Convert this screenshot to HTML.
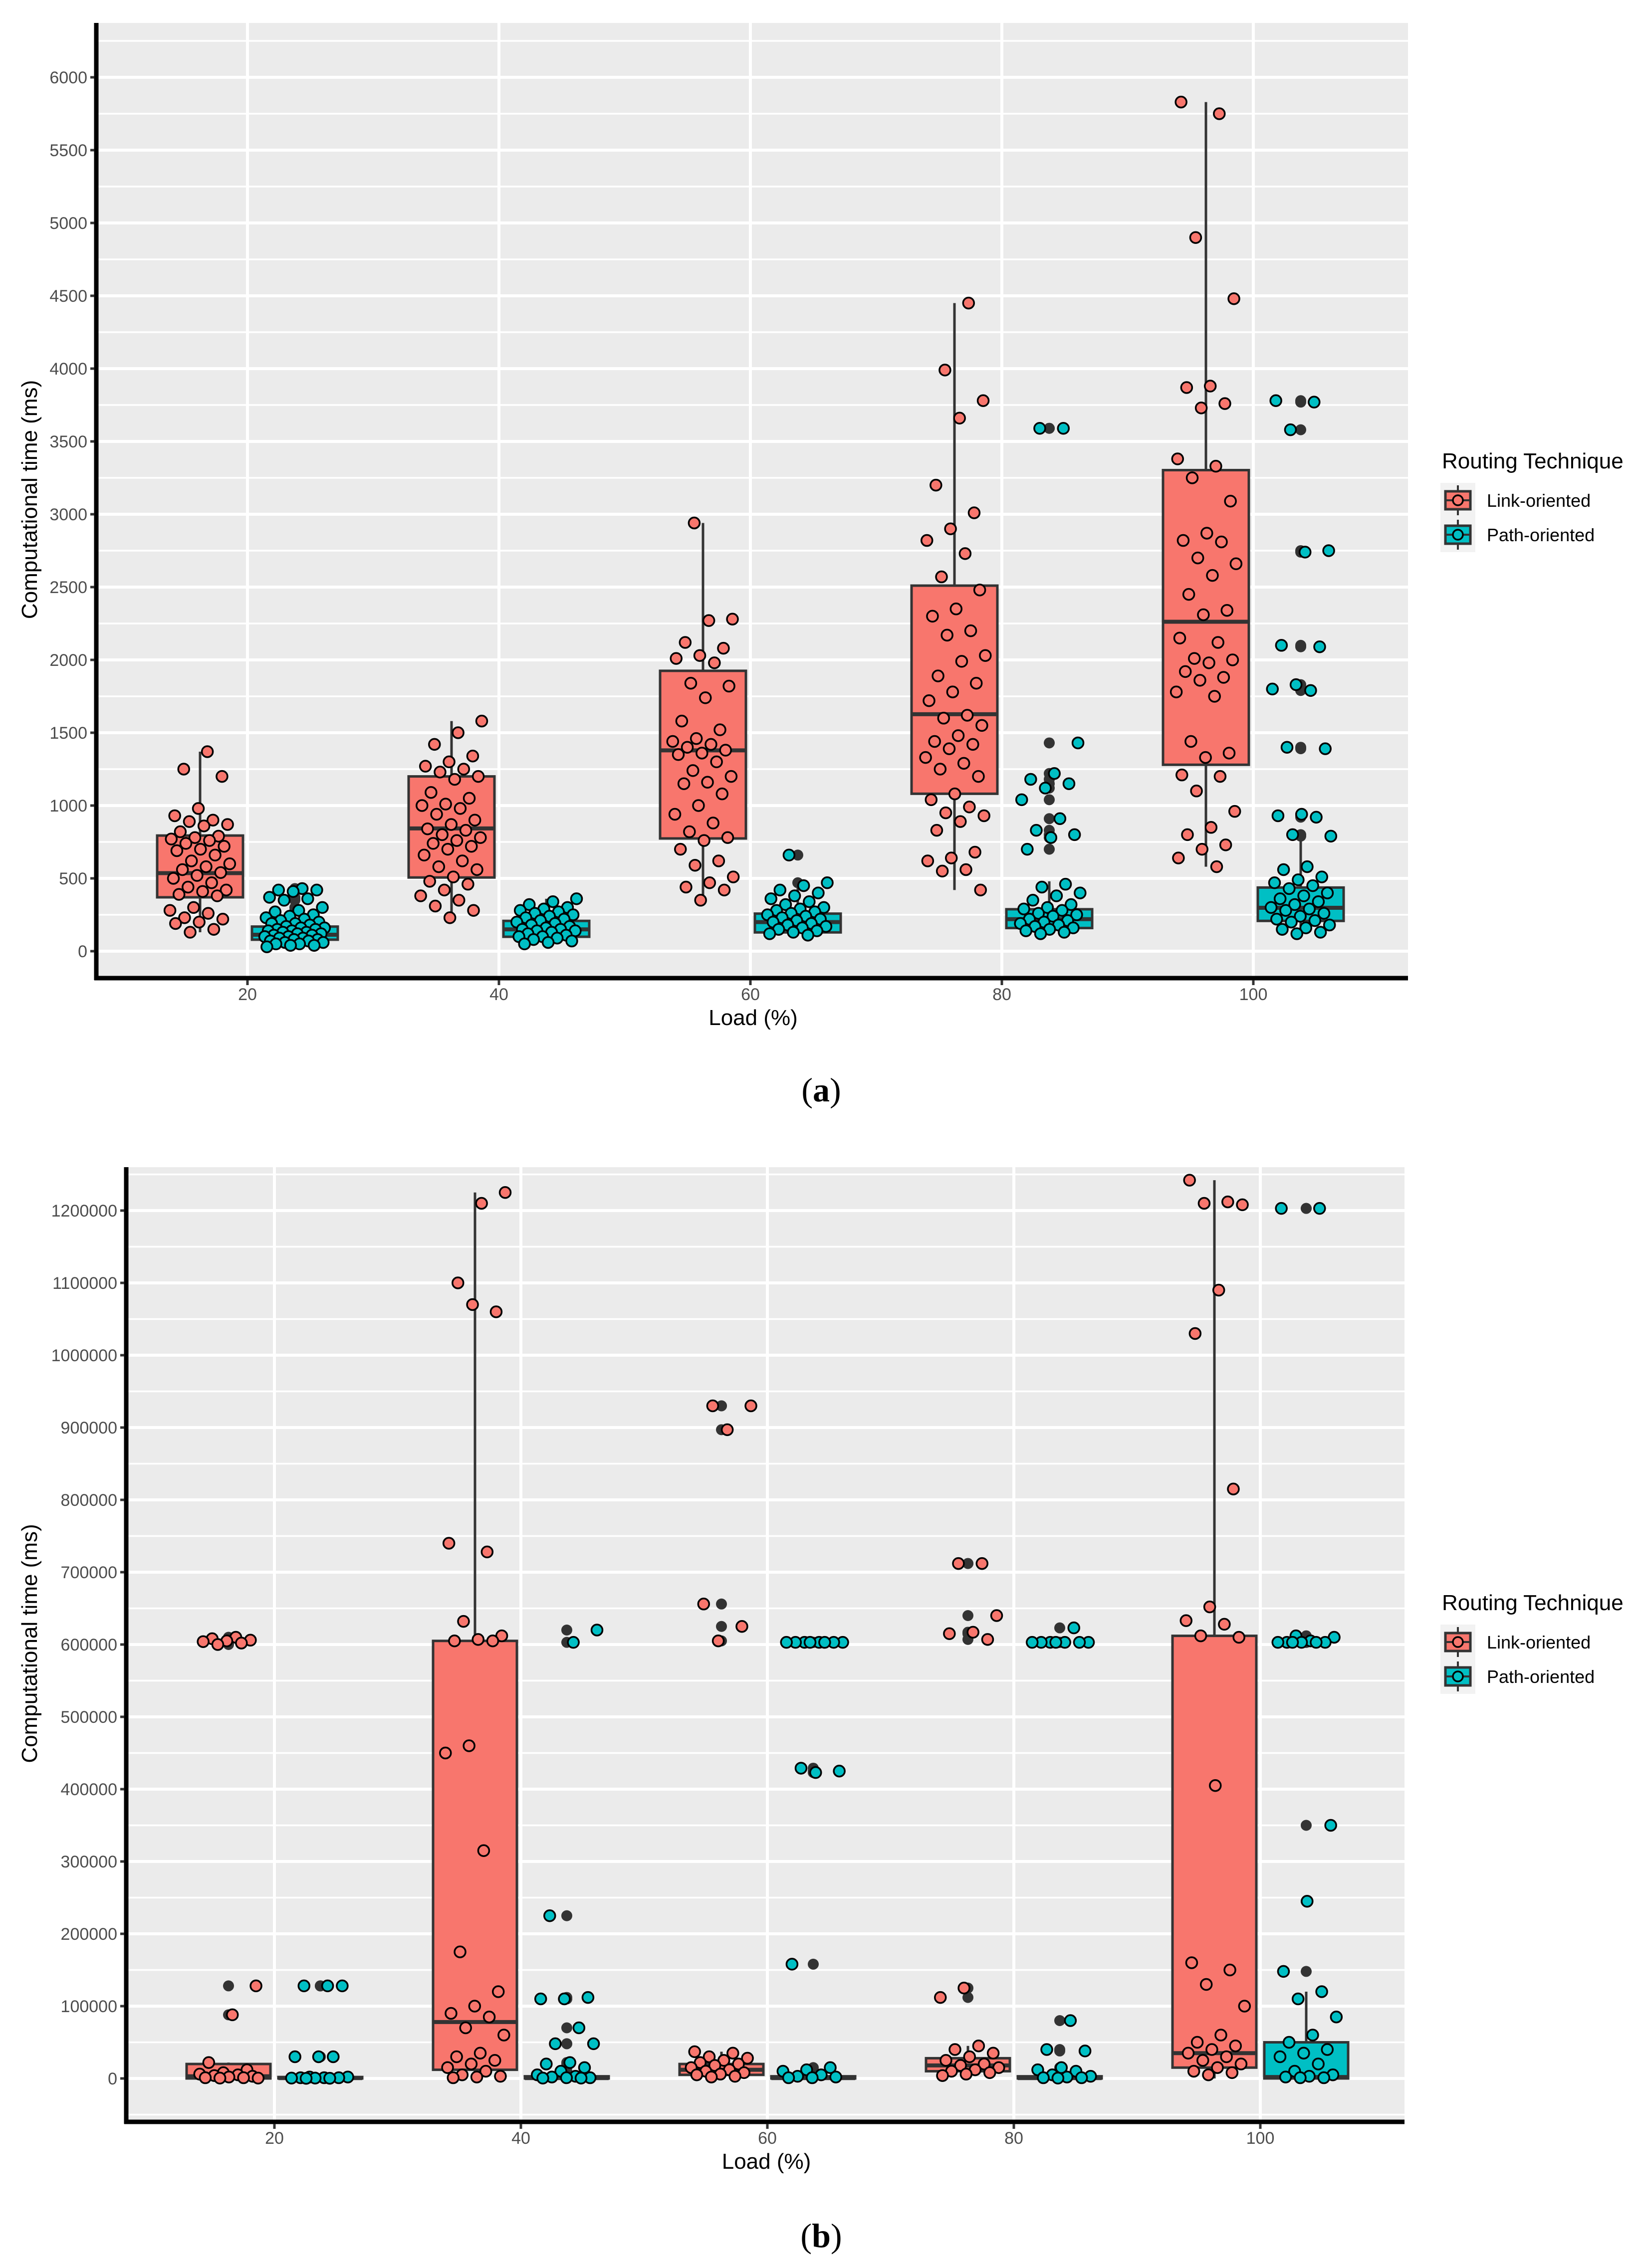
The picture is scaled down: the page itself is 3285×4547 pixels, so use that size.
<!DOCTYPE html>
<html><head><meta charset="utf-8"><style>
html,body{margin:0;padding:0;background:#fff;}
svg{display:block;}
text{font-family:"Liberation Sans",sans-serif;}
</style></head><body>
<svg id="chart" width="3285" height="4547" viewBox="0 0 3285 4547" xmlns="http://www.w3.org/2000/svg">
<rect width="3285" height="4547" fill="#fff"/>
</svg>
<script>
// ===== shared categories =====
const loads = [20, 40, 60, 80, 100];
const techniques = ["Link-oriented", "Path-oriented"];

// ===== panel (a) data (ms) =====
const aTicks = [0,500,1000,1500,2000,2500,3000,3500,4000,4500,5000,5500,6000];
const aLinkQ1 = [370, 506, 774, 1081, 1280];
const aLinkMed = [536, 843, 1379, 1627, 2262];
const aLinkQ3 = [794, 1200, 1925, 2510, 3303];
const aLinkLo = [130, 230, 350, 420, 580];
const aLinkHi = [1370, 1580, 2940, 4450, 5830];
const aPathQ1 = [79, 99, 129, 159, 208];
const aPathMed = [113, 150, 200, 220, 298];
const aPathQ3 = [169, 208, 258, 288, 437];
const aPathLo = [30, 50, 110, 120, 120];
const aPathHi = [270, 360, 450, 480, 760];
const aLink20 = [1370,1250,1200,980,930,900,890,870,860,820,790,780,770,760,740,720,700,690,660,620,600,580,560,540,520,500,470,440,420,410,390,380,300,280,260,230,220,200,190,150,130];
const aLink40 = [1580,1500,1420,1340,1300,1270,1250,1230,1200,1180,1090,1050,1010,1000,980,940,900,870,840,830,800,780,760,740,720,700,660,620,580,560,510,480,460,420,380,350,310,280,230];
const aLink60 = [2940,2280,2270,2120,2080,2030,2010,1980,1840,1820,1740,1580,1520,1460,1440,1420,1400,1380,1360,1350,1300,1240,1200,1160,1150,1080,1000,940,880,820,780,760,700,620,590,510,470,440,420,350];
const aLink80 = [4450,3990,3780,3660,3200,3010,2900,2820,2730,2570,2480,2350,2300,2200,2170,2030,1990,1890,1840,1780,1720,1620,1600,1550,1480,1440,1420,1390,1330,1290,1250,1200,1080,1040,990,950,930,890,830,680,640,620,560,550,420];
const aLink100 = [5830,5750,4900,4480,3880,3870,3760,3730,3380,3330,3250,3090,2870,2820,2810,2700,2660,2580,2450,2340,2310,2150,2120,2010,2000,1980,1920,1880,1860,1780,1750,1440,1360,1330,1210,1200,1100,960,850,800,730,700,640,580];
const aPath20 = [430,420,420,410,370,360,350,300,280,270,250,240,230,220,210,200,190,190,180,170,160,160,150,150,140,140,130,130,120,120,110,110,100,100,90,90,80,80,70,70,60,60,50,50,40,40,30];
const aPath40 = [360,340,320,300,290,280,270,260,250,240,230,220,210,200,190,180,170,160,150,150,140,140,130,120,110,100,100,90,80,70,60,50];
const aPath60 = [660,470,450,420,400,380,360,340,320,300,290,280,270,260,250,240,230,220,210,200,190,180,170,160,150,140,130,120,110];
const aPath80 = [3590,3590,1430,1220,1180,1150,1120,1040,910,830,800,780,700,460,440,400,380,350,320,300,290,280,260,250,240,220,210,200,190,180,170,160,150,140,130,120];
const aPath100 = [3780,3770,3580,2750,2740,2100,2090,1830,1800,1790,1400,1390,940,930,920,800,790,580,560,510,490,470,450,430,400,380,360,340,320,300,290,280,260,240,220,210,200,180,160,150,130,120];

// ===== panel (b) data (ms) =====
const bTicks = [0,100000,200000,300000,400000,500000,600000,700000,800000,900000,1000000,1100000,1200000];
const bLinkQ1 = [0, 12000, 5000, 10000, 15000];
const bLinkMed = [3000, 78000, 12000, 18000, 35000];
const bLinkQ3 = [20000, 605000, 20000, 28000, 612000];
const bLinkLo = [0, 0, 0, 0, 0];
const bLinkHi = [22000, 1225000, 37000, 45000, 1242000];
const bPathQ1 = [0, 0, 0, 0, 0];
const bPathMed = [500, 500, 500, 500, 2000];
const bPathQ3 = [2000, 3000, 3000, 3000, 50000];
const bPathLo = [0, 0, 0, 0, 0];
const bPathHi = [3000, 3000, 3000, 3000, 120000];
const bLink20 = [610000,608000,606000,605000,604000,602000,600000,128000,88000,22000,12000,8000,6000,5000,4000,3000,2000,1000,1000,500,500];
const bLink40 = [1225000,1210000,1100000,1060000,1070000,740000,728000,632000,612000,607000,605000,605000,460000,450000,315000,175000,120000,100000,90000,85000,70000,60000,35000,30000,25000,20000,15000,10000,5000,3000,2000,1000];
const bLink60 = [930000,930000,897000,656000,625000,605000,37000,35000,30000,28000,25000,22000,20000,18000,15000,12000,10000,8000,6000,5000,3000,2000];
const bLink80 = [712000,712000,640000,617000,615000,607000,125000,112000,45000,40000,35000,30000,25000,20000,18000,15000,12000,10000,8000,6000,4000];
const bLink100 = [1242000,1212000,1210000,1208000,1090000,1030000,815000,652000,633000,628000,612000,610000,405000,160000,150000,130000,100000,60000,50000,45000,40000,35000,30000,25000,20000,15000,10000,8000,5000];
const bPath20 = [128000,128000,128000,30000,30000,30000,2000,2000,1000,1000,1000,500,500,300,200];
const bPath40 = [620000,603000,225000,112000,110000,110000,70000,48000,48000,22000,20000,15000,10000,5000,3000,2000,1000,1000,500,500];
const bPath60 = [603000,603000,603000,603000,603000,603000,603000,603000,429000,425000,423000,158000,15000,12000,10000,5000,3000,2000,1000,1000];
const bPath80 = [623000,603000,603000,603000,603000,603000,603000,603000,80000,40000,38000,15000,12000,10000,5000,3000,2000,1000,1000,500];
const bPath100 = [1203000,1203000,612000,610000,605000,603000,603000,603000,603000,603000,603000,350000,245000,148000,120000,110000,85000,60000,50000,40000,35000,30000,20000,10000,5000,3000,2000,1000,1000];

const LINK_COL = "#F8766D", PATH_COL = "#00BFC4";
const svg = document.getElementById("chart");
const NS = "http://www.w3.org/2000/svg";
function mk(tag, attrs, parent) {
  const e = document.createElementNS(NS, tag);
  for (const k in attrs) e.setAttribute(k, attrs[k]);
  (parent || svg).appendChild(e);
  return e;
}

function drawPanel(p) {
  const g = mk("g", {});
  
  
  const yS = v => p.y0 - (v - 0) * p.ky;
  const xS = l => p.x20 + (l - 20) * p.kx;
  const vmin = (p.y0 - p.bottom) / p.ky, vmax = (p.y0 - p.top) / p.ky;
  const bg = mk("rect", {x:p.left, y:p.top, width:p.right-p.left, height:p.bottom-p.top, fill:"#EBEBEB"}, g);
  
  
  const step = p.ticks[1] - p.ticks[0];
  for (let v = p.ticks[0] - step / 2; v <= vmax; v += step) {
    if (v < vmin) continue;
    const l = mk("line", {x1:p.left, x2:p.right, y1:yS(v), y2:yS(v), stroke:"#fff", "stroke-width":3.5}, g);
    
    
  }
  p.ticks.forEach(v => {
    const l = mk("line", {x1:p.left, x2:p.right, y1:yS(v), y2:yS(v), stroke:"#fff", "stroke-width":6}, g);
    
    
  });
  loads.forEach(L => {
    const l = mk("line", {x1:xS(L), x2:xS(L), y1:p.top, y2:p.bottom, stroke:"#fff", "stroke-width":6}, g);
    
    
  });
  const series = [
    {col:LINK_COL, off:-p.dodge, q1:p.lq1, med:p.lmed, q3:p.lq3, lo:p.llo, hi:p.lhi, pts:p.lpts, key:"link"},
    {col:PATH_COL, off:p.dodge, q1:p.pq1, med:p.pmed, q3:p.pq3, lo:p.plo, hi:p.phi, pts:p.ppts, key:"path"}
  ];
  series.forEach(s => {
    loads.forEach((L, i) => {
      const cx = xS(L) + s.off;
      const bx = mk("g", {}, g);
      
      
      mk("line", {x1:cx, x2:cx, y1:yS(s.hi[i]), y2:yS(s.q3[i]), stroke:"#333", "stroke-width":5}, bx);
      mk("line", {x1:cx, x2:cx, y1:yS(s.q1[i]), y2:yS(s.lo[i]), stroke:"#333", "stroke-width":5}, bx);
      s.pts[i].forEach(v => {
        if (v > s.hi[i] || v < s.lo[i]) {
          const o = mk("circle", {cx:cx, cy:yS(v), r:p.r, fill:"#333"}, bx);
          
          
        }
      });
      const top = yS(s.q3[i]), bot = yS(s.q1[i]);
      mk("rect", {x:cx - p.bw, y:top, width:2 * p.bw, height:Math.max(bot - top, 0.5), fill:s.col, stroke:"#333", "stroke-width":5}, bx);
      mk("line", {x1:cx - p.bw, x2:cx + p.bw, y1:yS(s.med[i]), y2:yS(s.med[i]), stroke:"#333", "stroke-width":8}, bx);
    });
  });
  series.forEach(s => {
    loads.forEach((L, i) => {
      const cx = xS(L) + s.off;
      s.pts[i].forEach((v, j) => {
        const jit = (((j + 1) * 0.6180339 + i * 0.37) % 1 - 0.5) * 2 * p.jw;
        const c = mk("circle", {cx:cx + jit, cy:yS(v), r:p.r, fill:s.col, stroke:"#000", "stroke-width":3.5}, g);
        
        
      });
    });
  });
  const ya = mk("line", {x1:p.left - 4, x2:p.left - 4, y1:p.top, y2:p.bottom + 8, stroke:"#000", "stroke-width":9}, g);
  
  
  const xa = mk("line", {x1:p.left - 8, x2:p.right, y1:p.bottom + 4, y2:p.bottom + 4, stroke:"#000", "stroke-width":9}, g);
  
  
  p.ticks.forEach(v => {
    mk("line", {x1:p.left - 16, x2:p.left - 8, y1:yS(v), y2:yS(v), stroke:"#333", "stroke-width":5}, g);
    const t = mk("text", {x:p.left - 22, y:yS(v) + 12, "text-anchor":"end", "font-size":34, fill:"#4D4D4D"}, g);
    t.textContent = v;
    
    
  });
  loads.forEach(L => {
    mk("line", {x1:xS(L), x2:xS(L), y1:p.bottom + 8, y2:p.bottom + 18, stroke:"#333", "stroke-width":5}, g);
    const t = mk("text", {x:xS(L), y:p.bottom + 48, "text-anchor":"middle", "font-size":34, fill:"#4D4D4D"}, g);
    t.textContent = L;
    
    
  });
  const xt = mk("text", {x:(p.left + p.right) / 2, y:p.bottom + 98, "text-anchor":"middle", "font-size":44, fill:"#000"}, g);
  xt.textContent = "Load (%)";
  
  
  const cy = (p.top + p.bottom) / 2;
  const yt = mk("text", {x:0, y:0, transform:"translate(74," + cy + ") rotate(-90)", "text-anchor":"middle", "font-size":44, fill:"#000"}, g);
  yt.textContent = "Computational time (ms)";
  
  
  const lg = mk("g", {}, g);
  
  
  const lt = mk("text", {x:2890, y:p.legY, "font-size":44, fill:"#000"}, lg);
  lt.textContent = "Routing Technique";
  
  
  mk("rect", {x:2887, y:p.legY + 29, width:70, height:139, fill:"#F2F2F2"}, lg);
  [LINK_COL, PATH_COL].forEach((col, k) => {
    const e = mk("g", {}, lg);
    
    
    const ky = p.legY + 64 + k * 69;
    mk("line", {x1:2922, x2:2922, y1:ky - 30, y2:ky + 30, stroke:"#333", "stroke-width":4}, e);
    mk("rect", {x:2897, y:ky - 18, width:50, height:36, fill:col, stroke:"#333", "stroke-width":5}, e);
    mk("line", {x1:2897, x2:2947, y1:ky, y2:ky, stroke:"#333", "stroke-width":4}, e);
    mk("circle", {cx:2922, cy:ky, r:10, fill:col, stroke:"#000", "stroke-width":3.5}, e);
    const tx = mk("text", {x:2980, y:ky + 13, "font-size":36, fill:"#000"}, e);
    tx.textContent = techniques[k];
  });
  const cap = mk("text", {x:1646, y:p.capY, "text-anchor":"middle", "font-size":68, fill:"#000", style:"font-family:'Liberation Serif',serif"}, g);
  cap.innerHTML = '(<tspan font-weight="bold">' + p.cap + '</tspan>)';
  
  
}

drawPanel({
  name:"panel-a", left:197, right:2822, top:46, bottom:1957,
  y0:1907, ky:0.292, x20:496, kx:25.2, dodge:95, bw:86, jw:62, r:11,
  ticks:aTicks,
  lq1:aLinkQ1, lmed:aLinkMed, lq3:aLinkQ3, llo:aLinkLo, lhi:aLinkHi,
  pq1:aPathQ1, pmed:aPathMed, pq3:aPathQ3, plo:aPathLo, phi:aPathHi,
  lpts:[aLink20, aLink40, aLink60, aLink80, aLink100],
  ppts:[aPath20, aPath40, aPath60, aPath80, aPath100],
  legY:939, capY:2208, cap:"a"
});
drawPanel({
  name:"panel-b", left:257, right:2815, top:2340, bottom:4250,
  y0:4167, ky:0.00145, x20:550, kx:24.7, dodge:92, bw:84, jw:62, r:11,
  ticks:bTicks,
  lq1:bLinkQ1, lmed:bLinkMed, lq3:bLinkQ3, llo:bLinkLo, lhi:bLinkHi,
  pq1:bPathQ1, pmed:bPathMed, pq3:bPathQ3, plo:bPathLo, phi:bPathHi,
  lpts:[bLink20, bLink40, bLink60, bLink80, bLink100],
  ppts:[bPath20, bPath40, bPath60, bPath80, bPath100],
  legY:3228, capY:4505, cap:"b"
});
</script>
</body></html>
